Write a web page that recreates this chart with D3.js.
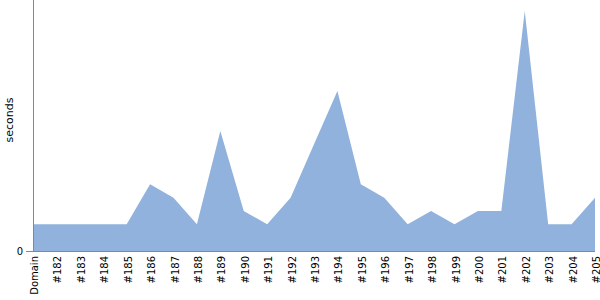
<!DOCTYPE html>
<html><head><meta charset="utf-8">
<script src="https://cdn.jsdelivr.net/npm/d3@7"></script>
<style>body{margin:0;background:#fff}</style>
</head><body>
<svg id="c" width="600" height="300"></svg>
<script>
const categories = ["Domain","#182","#183","#184","#185","#186","#187","#188","#189","#190","#191","#192","#193","#194","#195","#196","#197","#198","#199","#200","#201","#202","#203","#204","#205"];
const seconds = [2,2,2,2,2,5,4,2,9,3,2,4,8,12,5,4,2,3,2,3,3,18,2,2,4];
const yTicks = [0];
const yLabel = "seconds";

const svg = d3.select("#c");
const m = {l:33, r:5, t:0, b:49};
const W = 600, H = 300;
const x = d3.scalePoint().domain(categories).range([m.l, W - m.r]);
const y = d3.scaleLinear().domain([0, 18.83]).range([H - m.b, m.t]);

const data = categories.map((c,i)=>({c, v:seconds[i]}));
svg.append("path").datum(data)
  .attr("fill","#90b2dc")
  .attr("d", d3.area().x(d=>x(d.c)).y0(y(0)).y1(d=>y(d.v)));

const ya = svg.append("g").attr("transform",`translate(${m.l},0)`)
  .call(d3.axisLeft(y).tickValues(yTicks).tickSize(7).tickPadding(3));
ya.select(".domain").attr("stroke","#888").attr("d",`M-7,${y(0)+0.5}H0.5V0`);
ya.selectAll(".tick line").attr("stroke","#888");
ya.selectAll("text").attr("font-family","DejaVu Sans").attr("font-size",10).attr("fill","#000");

const xa = svg.append("g").attr("transform",`translate(0,${H - m.b})`)
  .call(d3.axisBottom(x).tickSize(0).tickPadding(0));
xa.select(".domain").attr("stroke","#888").attr("d",`M${m.l},0.5H${W - m.r}`);
xa.selectAll("text").attr("font-family","DejaVu Sans").attr("font-size",10).attr("fill","#000")
  .attr("text-anchor","end").attr("dy",null)
  .attr("transform","translate(4.5,5) rotate(-90)");

svg.append("text").attr("transform",`translate(13,120) rotate(-90)`)
  .attr("text-anchor","middle").attr("font-family","DejaVu Sans").attr("font-size",11)
  .text(yLabel);
</script>
</body></html>
